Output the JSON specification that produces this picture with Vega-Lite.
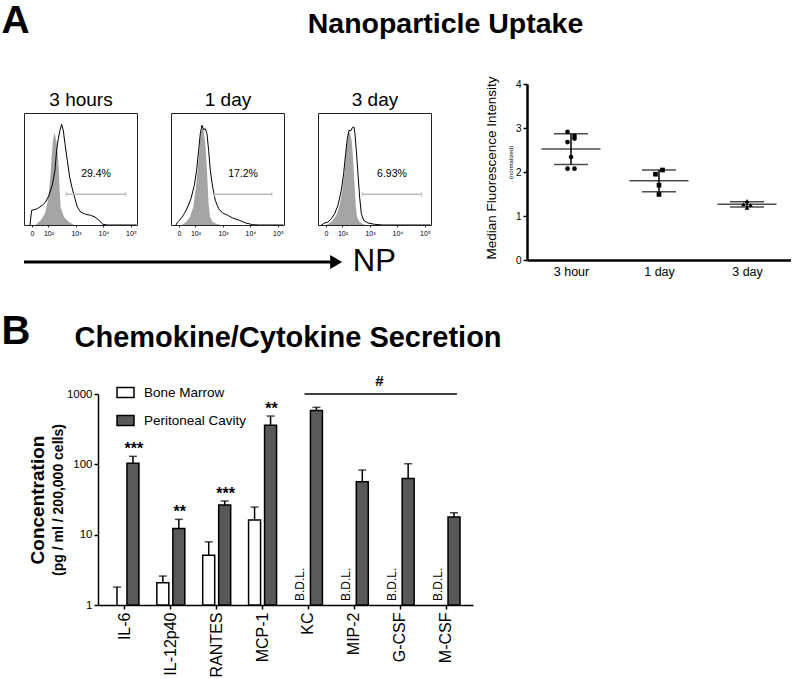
{
  "$schema": "https://vega.github.io/schema/vega-lite/v6.json",
  "padding": 0,
  "autosize": {"type": "pad"},
  "background": "white",
  "config": {
    "font": "Liberation Sans",
    "view": {"stroke": null},
    "axis": {"domainColor": "black", "tickColor": "black", "labelColor": "black", "titleColor": "black", "grid": false, "labelFont": "Liberation Sans", "titleFont": "Liberation Sans"},
    "legend": {"labelFont": "Liberation Sans", "labelColor": "black"},
    "text": {"color": "black", "font": "Liberation Sans"}
  },
  "datasets": {
    "hist": [
      {"panel": "3 hours", "series": "NP", "fl": 1.327, "count": 0},
      {"panel": "3 hours", "series": "NP", "fl": 1.388, "count": 14.7},
      {"panel": "3 hours", "series": "NP", "fl": 1.473, "count": 15.3},
      {"panel": "3 hours", "series": "NP", "fl": 1.594, "count": 16.3},
      {"panel": "3 hours", "series": "NP", "fl": 1.776, "count": 19.7},
      {"panel": "3 hours", "series": "NP", "fl": 1.897, "count": 23},
      {"panel": "3 hours", "series": "NP", "fl": 2.018, "count": 29.7},
      {"panel": "3 hours", "series": "NP", "fl": 2.139, "count": 39.7},
      {"panel": "3 hours", "series": "NP", "fl": 2.236, "count": 54.7},
      {"panel": "3 hours", "series": "NP", "fl": 2.297, "count": 74.7},
      {"panel": "3 hours", "series": "NP", "fl": 2.358, "count": 86.3},
      {"panel": "3 hours", "series": "NP", "fl": 2.418, "count": 94.7},
      {"panel": "3 hours", "series": "NP", "fl": 2.479, "count": 100.7},
      {"panel": "3 hours", "series": "NP", "fl": 2.539, "count": 94.7},
      {"panel": "3 hours", "series": "NP", "fl": 2.6, "count": 81.3},
      {"panel": "3 hours", "series": "NP", "fl": 2.685, "count": 64.7},
      {"panel": "3 hours", "series": "NP", "fl": 2.77, "count": 48},
      {"panel": "3 hours", "series": "NP", "fl": 2.867, "count": 36.3},
      {"panel": "3 hours", "series": "NP", "fl": 2.964, "count": 26.3},
      {"panel": "3 hours", "series": "NP", "fl": 3.048, "count": 18},
      {"panel": "3 hours", "series": "NP", "fl": 3.17, "count": 13},
      {"panel": "3 hours", "series": "NP", "fl": 3.352, "count": 10.7},
      {"panel": "3 hours", "series": "NP", "fl": 3.533, "count": 9.7},
      {"panel": "3 hours", "series": "NP", "fl": 3.691, "count": 8},
      {"panel": "3 hours", "series": "NP", "fl": 3.836, "count": 4.7},
      {"panel": "3 hours", "series": "NP", "fl": 3.982, "count": 0.7},
      {"panel": "3 hours", "series": "NP", "fl": 4.139, "count": 0},
      {"panel": "3 hours", "series": "NP", "fl": 5.2, "count": 0},
      {"panel": "3 hours", "series": "control", "fl": 1.533, "count": 0},
      {"panel": "3 hours", "series": "control", "fl": 1.715, "count": 4.7},
      {"panel": "3 hours", "series": "control", "fl": 1.873, "count": 11.3},
      {"panel": "3 hours", "series": "control", "fl": 1.958, "count": 21.3},
      {"panel": "3 hours", "series": "control", "fl": 2.018, "count": 34.7},
      {"panel": "3 hours", "series": "control", "fl": 2.079, "count": 51.3},
      {"panel": "3 hours", "series": "control", "fl": 2.115, "count": 68},
      {"panel": "3 hours", "series": "control", "fl": 2.164, "count": 84.7},
      {"panel": "3 hours", "series": "control", "fl": 2.212, "count": 92},
      {"panel": "3 hours", "series": "control", "fl": 2.285, "count": 84.7},
      {"panel": "3 hours", "series": "control", "fl": 2.345, "count": 68},
      {"panel": "3 hours", "series": "control", "fl": 2.382, "count": 51.3},
      {"panel": "3 hours", "series": "control", "fl": 2.406, "count": 34.7},
      {"panel": "3 hours", "series": "control", "fl": 2.442, "count": 18},
      {"panel": "3 hours", "series": "control", "fl": 2.564, "count": 8},
      {"panel": "3 hours", "series": "control", "fl": 2.745, "count": 3},
      {"panel": "3 hours", "series": "control", "fl": 2.927, "count": 0},
      {"panel": "1 day", "series": "NP", "fl": 1.291, "count": 0},
      {"panel": "1 day", "series": "NP", "fl": 1.352, "count": 3},
      {"panel": "1 day", "series": "NP", "fl": 1.473, "count": 6.3},
      {"panel": "1 day", "series": "NP", "fl": 1.594, "count": 11.3},
      {"panel": "1 day", "series": "NP", "fl": 1.715, "count": 18},
      {"panel": "1 day", "series": "NP", "fl": 1.836, "count": 26.3},
      {"panel": "1 day", "series": "NP", "fl": 1.958, "count": 39.7},
      {"panel": "1 day", "series": "NP", "fl": 2.042, "count": 54.7},
      {"panel": "1 day", "series": "NP", "fl": 2.115, "count": 74.7},
      {"panel": "1 day", "series": "NP", "fl": 2.176, "count": 91.3},
      {"panel": "1 day", "series": "NP", "fl": 2.236, "count": 99.7},
      {"panel": "1 day", "series": "NP", "fl": 2.297, "count": 95.3},
      {"panel": "1 day", "series": "NP", "fl": 2.358, "count": 96.3},
      {"panel": "1 day", "series": "NP", "fl": 2.418, "count": 91.3},
      {"panel": "1 day", "series": "NP", "fl": 2.479, "count": 74.7},
      {"panel": "1 day", "series": "NP", "fl": 2.539, "count": 54.7},
      {"panel": "1 day", "series": "NP", "fl": 2.624, "count": 38},
      {"panel": "1 day", "series": "NP", "fl": 2.721, "count": 24.7},
      {"panel": "1 day", "series": "NP", "fl": 2.842, "count": 16.3},
      {"panel": "1 day", "series": "NP", "fl": 2.988, "count": 12},
      {"panel": "1 day", "series": "NP", "fl": 3.17, "count": 9.7},
      {"panel": "1 day", "series": "NP", "fl": 3.352, "count": 7},
      {"panel": "1 day", "series": "NP", "fl": 3.594, "count": 4.7},
      {"panel": "1 day", "series": "NP", "fl": 3.836, "count": 2},
      {"panel": "1 day", "series": "NP", "fl": 4.079, "count": 0.3},
      {"panel": "1 day", "series": "NP", "fl": 4.321, "count": 0},
      {"panel": "1 day", "series": "NP", "fl": 5.2, "count": 0},
      {"panel": "1 day", "series": "control", "fl": 1.509, "count": 0},
      {"panel": "1 day", "series": "control", "fl": 1.655, "count": 3},
      {"panel": "1 day", "series": "control", "fl": 1.8, "count": 8},
      {"panel": "1 day", "series": "control", "fl": 1.921, "count": 18},
      {"panel": "1 day", "series": "control", "fl": 2.018, "count": 38},
      {"panel": "1 day", "series": "control", "fl": 2.079, "count": 54.7},
      {"panel": "1 day", "series": "control", "fl": 2.139, "count": 74.7},
      {"panel": "1 day", "series": "control", "fl": 2.188, "count": 91.3},
      {"panel": "1 day", "series": "control", "fl": 2.236, "count": 98},
      {"panel": "1 day", "series": "control", "fl": 2.297, "count": 94.7},
      {"panel": "1 day", "series": "control", "fl": 2.358, "count": 81.3},
      {"panel": "1 day", "series": "control", "fl": 2.406, "count": 61.3},
      {"panel": "1 day", "series": "control", "fl": 2.442, "count": 41.3},
      {"panel": "1 day", "series": "control", "fl": 2.479, "count": 21.3},
      {"panel": "1 day", "series": "control", "fl": 2.527, "count": 8},
      {"panel": "1 day", "series": "control", "fl": 2.624, "count": 3},
      {"panel": "1 day", "series": "control", "fl": 2.806, "count": 0.7},
      {"panel": "1 day", "series": "control", "fl": 2.927, "count": 0},
      {"panel": "3 day", "series": "NP", "fl": 1.23, "count": 0},
      {"panel": "3 day", "series": "NP", "fl": 1.352, "count": 2},
      {"panel": "3 day", "series": "NP", "fl": 1.473, "count": 3},
      {"panel": "3 day", "series": "NP", "fl": 1.594, "count": 6.3},
      {"panel": "3 day", "series": "NP", "fl": 1.715, "count": 11.3},
      {"panel": "3 day", "series": "NP", "fl": 1.836, "count": 19.7},
      {"panel": "3 day", "series": "NP", "fl": 1.958, "count": 34.7},
      {"panel": "3 day", "series": "NP", "fl": 2.042, "count": 51.3},
      {"panel": "3 day", "series": "NP", "fl": 2.115, "count": 71.3},
      {"panel": "3 day", "series": "NP", "fl": 2.176, "count": 86.3},
      {"panel": "3 day", "series": "NP", "fl": 2.236, "count": 94.7},
      {"panel": "3 day", "series": "NP", "fl": 2.297, "count": 94},
      {"panel": "3 day", "series": "NP", "fl": 2.358, "count": 97.3},
      {"panel": "3 day", "series": "NP", "fl": 2.418, "count": 98},
      {"panel": "3 day", "series": "NP", "fl": 2.455, "count": 91.3},
      {"panel": "3 day", "series": "NP", "fl": 2.503, "count": 74.7},
      {"panel": "3 day", "series": "NP", "fl": 2.564, "count": 51.3},
      {"panel": "3 day", "series": "NP", "fl": 2.624, "count": 28},
      {"panel": "3 day", "series": "NP", "fl": 2.685, "count": 11.3},
      {"panel": "3 day", "series": "NP", "fl": 2.77, "count": 4.7},
      {"panel": "3 day", "series": "NP", "fl": 2.927, "count": 2},
      {"panel": "3 day", "series": "NP", "fl": 3.17, "count": 0.7},
      {"panel": "3 day", "series": "NP", "fl": 3.473, "count": 0},
      {"panel": "3 day", "series": "NP", "fl": 5.2, "count": 0},
      {"panel": "3 day", "series": "control", "fl": 1.412, "count": 0},
      {"panel": "3 day", "series": "control", "fl": 1.594, "count": 3},
      {"panel": "3 day", "series": "control", "fl": 1.776, "count": 9.7},
      {"panel": "3 day", "series": "control", "fl": 1.897, "count": 19.7},
      {"panel": "3 day", "series": "control", "fl": 1.994, "count": 34.7},
      {"panel": "3 day", "series": "control", "fl": 2.079, "count": 54.7},
      {"panel": "3 day", "series": "control", "fl": 2.139, "count": 74.7},
      {"panel": "3 day", "series": "control", "fl": 2.2, "count": 89.7},
      {"panel": "3 day", "series": "control", "fl": 2.236, "count": 93},
      {"panel": "3 day", "series": "control", "fl": 2.285, "count": 91.3},
      {"panel": "3 day", "series": "control", "fl": 2.333, "count": 84.7},
      {"panel": "3 day", "series": "control", "fl": 2.382, "count": 68},
      {"panel": "3 day", "series": "control", "fl": 2.43, "count": 44.7},
      {"panel": "3 day", "series": "control", "fl": 2.479, "count": 21.3},
      {"panel": "3 day", "series": "control", "fl": 2.527, "count": 8},
      {"panel": "3 day", "series": "control", "fl": 2.624, "count": 3},
      {"panel": "3 day", "series": "control", "fl": 2.745, "count": 1},
      {"panel": "3 day", "series": "control", "fl": 2.867, "count": 0}
    ],
    "gates": [
      {"panel": "3 hours", "lo": 2.65, "hi": 4.81, "mid": 3.73, "level": 30.7, "pct": "29.4%"},
      {"panel": "1 day", "lo": 2.685, "hi": 4.78, "mid": 3.73, "level": 30.7, "pct": "17.2%"},
      {"panel": "3 day", "lo": 2.72, "hi": 4.87, "mid": 3.8, "level": 30.7, "pct": "6.93%"}
    ],
    "scatter": [
      {"time": "3 hour", "mfi": 2.91, "lane": -1},
      {"time": "3 hour", "mfi": 2.82, "lane": 1},
      {"time": "3 hour", "mfi": 2.76, "lane": 1},
      {"time": "3 hour", "mfi": 2.68, "lane": -1},
      {"time": "3 hour", "mfi": 2.34, "lane": 0},
      {"time": "3 hour", "mfi": 2.075, "lane": -1},
      {"time": "3 hour", "mfi": 2.075, "lane": 1},
      {"time": "1 day", "mfi": 2.045, "lane": 1},
      {"time": "1 day", "mfi": 1.95, "lane": -1},
      {"time": "1 day", "mfi": 1.7, "lane": 0},
      {"time": "1 day", "mfi": 1.49, "lane": 0},
      {"time": "3 day", "mfi": 1.265, "lane": -1},
      {"time": "3 day", "mfi": 1.34, "lane": 0},
      {"time": "3 day", "mfi": 1.19, "lane": 0},
      {"time": "3 day", "mfi": 1.25, "lane": 1}
    ],
    "summary": [
      {"time": "3 hour", "mean": 2.52, "lo": 2.17, "hi": 2.87},
      {"time": "1 day", "mean": 1.8, "lo": 1.55, "hi": 2.045},
      {"time": "3 day", "mean": 1.265, "lo": 1.205, "hi": 1.326}
    ],
    "bars": [
      {"cytokine": "IL-6", "source": "Bone Marrow", "value": 1, "upper": 1.8},
      {"cytokine": "IL-6", "source": "Peritoneal Cavity", "value": 104, "upper": 130, "sig": "***"},
      {"cytokine": "IL-12p40", "source": "Bone Marrow", "value": 2.07, "upper": 2.58},
      {"cytokine": "IL-12p40", "source": "Peritoneal Cavity", "value": 12.2, "upper": 16.5, "sig": "**"},
      {"cytokine": "RANTES", "source": "Bone Marrow", "value": 5.1, "upper": 7.9},
      {"cytokine": "RANTES", "source": "Peritoneal Cavity", "value": 26.4, "upper": 30.1, "sig": "***"},
      {"cytokine": "MCP-1", "source": "Bone Marrow", "value": 16.2, "upper": 24.7},
      {"cytokine": "MCP-1", "source": "Peritoneal Cavity", "value": 359, "upper": 486, "sig": "**"},
      {"cytokine": "KC", "source": "Bone Marrow", "bdl": true},
      {"cytokine": "KC", "source": "Peritoneal Cavity", "value": 581, "upper": 646},
      {"cytokine": "MIP-2", "source": "Bone Marrow", "bdl": true},
      {"cytokine": "MIP-2", "source": "Peritoneal Cavity", "value": 56.7, "upper": 83},
      {"cytokine": "G-CSF", "source": "Bone Marrow", "bdl": true},
      {"cytokine": "G-CSF", "source": "Peritoneal Cavity", "value": 63, "upper": 102},
      {"cytokine": "M-CSF", "source": "Bone Marrow", "bdl": true},
      {"cytokine": "M-CSF", "source": "Peritoneal Cavity", "value": 17.8, "upper": 20.5}
    ],
    "bracket": [
      {"cytokine": "KC", "to": "M-CSF", "top": 1000, "label": "#"}
    ]
  },
  "spacing": 132,
  "bounds": "flush",
  "resolve": {"scale": {"color": "independent", "shape": "independent"}, "legend": {"color": "independent", "shape": "independent"}},
  "vconcat": [
    {
      "spacing": 34,
      "bounds": "flush",
      "hconcat": [
        {
          "width": 113, "height": 112,
          "view": {"stroke": "#222222", "strokeWidth": 1},
          "resolve": {"axis": {"x": "independent", "y": "independent"}},
          "layer": [
            {"data": {"name": "hist"}, "transform": [{"filter": "datum.panel == '3 hours' && datum.series == 'control'"}],
             "mark": {"type": "area", "color": "#a4a4a4", "clip": true},
             "encoding": {
               "x": {"field": "fl", "type": "quantitative", "scale": {"domain": [1.11, 5.22], "nice": false, "zero": false},
                     "axis": {"values": [1.4, 2, 3, 4, 5], "labelExpr": "datum.value < 1.5 ? '0' : datum.value == 2 ? '10²' : datum.value == 3 ? '10³' : datum.value == 4 ? '10⁴' : '10⁵'", "domain": false, "tickSize": 2, "tickWidth": 0.8, "labelFontSize": 7, "labelPadding": 2, "labelFlush": false, "labelOverlap": false, "labelBound": false,
                              "title": "3 hours", "titleX": 56.5, "titleY": -120, "titleAlign": "center", "titleBaseline": "alphabetic", "titleAngle": 0, "titleFontSize": 19, "titleFontWeight": "normal"}},
               "y": {"field": "count", "type": "quantitative", "scale": {"domain": [0, 112], "nice": false},
                     "axis": {"orient": "left", "domain": false, "ticks": false, "labels": false, "title": "A", "titleX": -23, "titleY": -81, "titleAngle": 0, "titleAlign": "left", "titleBaseline": "alphabetic", "titleFontSize": 39, "titleFontWeight": "bold"}}}},
            {"data": {"name": "hist"}, "transform": [{"filter": "datum.panel == '3 hours' && datum.series == 'NP'"}],
             "mark": {"type": "line", "color": "black", "strokeWidth": 1, "clip": true},
             "encoding": {"x": {"field": "fl", "type": "quantitative", "axis": null}, "y": {"field": "count", "type": "quantitative", "axis": null}}},
            {"data": {"name": "gates"}, "transform": [{"filter": "datum.panel == '3 hours'"}],
             "layer": [
               {"mark": {"type": "rule", "color": "#bbbbbb", "strokeWidth": 1.5},
                "encoding": {"x": {"field": "lo", "type": "quantitative", "axis": null}, "x2": {"field": "hi"}, "y": {"field": "level", "type": "quantitative", "axis": null}}},
               {"mark": {"type": "tick", "orient": "vertical", "size": 5, "thickness": 1.2, "color": "#bbbbbb"},
                "encoding": {"x": {"field": "lo", "type": "quantitative", "axis": null}, "y": {"field": "level", "type": "quantitative", "axis": null}}},
               {"mark": {"type": "tick", "orient": "vertical", "size": 5, "thickness": 1.2, "color": "#bbbbbb"},
                "encoding": {"x": {"field": "hi", "type": "quantitative", "axis": null}, "y": {"field": "level", "type": "quantitative", "axis": null}}},
               {"mark": {"type": "text", "fontSize": 10.5, "dy": -20},
                "encoding": {"x": {"field": "mid", "type": "quantitative", "axis": null}, "y": {"field": "level", "type": "quantitative", "axis": null}, "text": {"field": "pct"}}}
             ]}
          ]
        },
        {
          "width": 113, "height": 112,
          "view": {"stroke": "#222222", "strokeWidth": 1},
          "resolve": {"axis": {"x": "independent", "y": "independent"}},
          "layer": [
            {"data": {"name": "hist"}, "transform": [{"filter": "datum.panel == '1 day' && datum.series == 'control'"}],
             "mark": {"type": "area", "color": "#a4a4a4", "clip": true},
             "encoding": {
               "x": {"field": "fl", "type": "quantitative", "scale": {"domain": [1.11, 5.22], "nice": false, "zero": false},
                     "axis": {"values": [1.4, 2, 3, 4, 5], "labelExpr": "datum.value < 1.5 ? '0' : datum.value == 2 ? '10²' : datum.value == 3 ? '10³' : datum.value == 4 ? '10⁴' : '10⁵'", "domain": false, "tickSize": 2, "tickWidth": 0.8, "labelFontSize": 7, "labelPadding": 2, "labelFlush": false, "labelOverlap": false, "labelBound": false,
                              "title": "1 day", "titleX": 56.5, "titleY": -120, "titleAlign": "center", "titleBaseline": "alphabetic", "titleAngle": 0, "titleFontSize": 19, "titleFontWeight": "normal"}},
               "y": {"field": "count", "type": "quantitative", "scale": {"domain": [0, 112], "nice": false}, "axis": null}}},
            {"data": {"name": "hist"}, "transform": [{"filter": "datum.panel == '1 day' && datum.series == 'NP'"}],
             "mark": {"type": "line", "color": "black", "strokeWidth": 1, "clip": true},
             "encoding": {"x": {"field": "fl", "type": "quantitative", "axis": null}, "y": {"field": "count", "type": "quantitative", "axis": null}}},
            {"data": {"name": "gates"}, "transform": [{"filter": "datum.panel == '1 day'"}],
             "layer": [
               {"mark": {"type": "rule", "color": "#bbbbbb", "strokeWidth": 1.5},
                "encoding": {"x": {"field": "lo", "type": "quantitative", "axis": null}, "x2": {"field": "hi"}, "y": {"field": "level", "type": "quantitative", "axis": null}}},
               {"mark": {"type": "tick", "orient": "vertical", "size": 5, "thickness": 1.2, "color": "#bbbbbb"},
                "encoding": {"x": {"field": "lo", "type": "quantitative", "axis": null}, "y": {"field": "level", "type": "quantitative", "axis": null}}},
               {"mark": {"type": "tick", "orient": "vertical", "size": 5, "thickness": 1.2, "color": "#bbbbbb"},
                "encoding": {"x": {"field": "hi", "type": "quantitative", "axis": null}, "y": {"field": "level", "type": "quantitative", "axis": null}}},
               {"mark": {"type": "text", "fontSize": 10.5, "dy": -20},
                "encoding": {"x": {"field": "mid", "type": "quantitative", "axis": null}, "y": {"field": "level", "type": "quantitative", "axis": null}, "text": {"field": "pct"}}}
             ]}
          ]
        },
        {
          "width": 113, "height": 112,
          "view": {"stroke": "#222222", "strokeWidth": 1},
          "resolve": {"axis": {"x": "independent", "y": "independent"}},
          "layer": [
            {"data": {"name": "hist"}, "transform": [{"filter": "datum.panel == '3 day' && datum.series == 'control'"}],
             "mark": {"type": "area", "color": "#a4a4a4", "clip": true},
             "encoding": {
               "x": {"field": "fl", "type": "quantitative", "scale": {"domain": [1.11, 5.22], "nice": false, "zero": false},
                     "axis": {"values": [1.4, 2, 3, 4, 5], "labelExpr": "datum.value < 1.5 ? '0' : datum.value == 2 ? '10²' : datum.value == 3 ? '10³' : datum.value == 4 ? '10⁴' : '10⁵'", "domain": false, "tickSize": 2, "tickWidth": 0.8, "labelFontSize": 7, "labelPadding": 2, "labelFlush": false, "labelOverlap": false, "labelBound": false,
                              "title": "3 day", "titleX": 56.5, "titleY": -120, "titleAlign": "center", "titleBaseline": "alphabetic", "titleAngle": 0, "titleFontSize": 19, "titleFontWeight": "normal"}},
               "y": {"field": "count", "type": "quantitative", "scale": {"domain": [0, 112], "nice": false}, "axis": null}}},
            {"data": {"name": "hist"}, "transform": [{"filter": "datum.panel == '3 day' && datum.series == 'NP'"}],
             "mark": {"type": "line", "color": "black", "strokeWidth": 1, "clip": true},
             "encoding": {"x": {"field": "fl", "type": "quantitative", "axis": null}, "y": {"field": "count", "type": "quantitative", "axis": null}}},
            {"data": {"name": "gates"}, "transform": [{"filter": "datum.panel == '3 day'"}],
             "layer": [
               {"mark": {"type": "rule", "color": "#bbbbbb", "strokeWidth": 1.5},
                "encoding": {"x": {"field": "lo", "type": "quantitative", "axis": null}, "x2": {"field": "hi"}, "y": {"field": "level", "type": "quantitative", "axis": null}}},
               {"mark": {"type": "tick", "orient": "vertical", "size": 5, "thickness": 1.2, "color": "#bbbbbb"},
                "encoding": {"x": {"field": "lo", "type": "quantitative", "axis": null}, "y": {"field": "level", "type": "quantitative", "axis": null}}},
               {"mark": {"type": "tick", "orient": "vertical", "size": 5, "thickness": 1.2, "color": "#bbbbbb"},
                "encoding": {"x": {"field": "hi", "type": "quantitative", "axis": null}, "y": {"field": "level", "type": "quantitative", "axis": null}}},
               {"mark": {"type": "text", "fontSize": 10.5, "dy": -20},
                "encoding": {"x": {"field": "mid", "type": "quantitative", "axis": null}, "y": {"field": "level", "type": "quantitative", "axis": null}, "text": {"field": "pct"}}}
             ]}
          ]
        },
        {
          "width": 326, "height": 147,
          "layer": [
            {"data": {"name": "summary"}, "mark": {"type": "rule", "strokeWidth": 1.5, "color": "black"},
             "encoding": {
               "x": {"field": "time", "type": "nominal", "sort": ["3 hour", "1 day", "3 day"], "scale": {"type": "point", "padding": 0.5, "range": [62, 326]},
                     "axis": {"labelAngle": 0, "labelFontSize": 12.5, "ticks": false, "domainWidth": 2.5, "labelPadding": 5,
                              "title": "Nanoparticle Uptake", "titleX": -20, "titleY": -228, "titleAlign": "center", "titleBaseline": "alphabetic", "titleAngle": 0, "titleFontSize": 28.5, "titleFontWeight": "bold"}},
               "y": {"field": "lo", "type": "quantitative", "scale": {"domain": [0, 4], "nice": false, "range": [147, -29]},
                     "axis": {"orient": "left", "offset": -62, "values": [0, 1, 2, 3, 4], "format": "d", "labelFontSize": 10, "tickSize": 4, "tickWidth": 1.5, "domainWidth": 2.5, "labelPadding": 2,
                              "title": "Median Fluorescence Intensity", "titleFontSize": 13.5, "titleFontWeight": "normal", "titleX": -36, "titleY": 54.5, "titleAngle": 270, "titleBaseline": "middle", "titleAlign": "center"}},
               "y2": {"field": "hi"}}},
            {"data": {"name": "summary"}, "mark": {"type": "tick", "size": 59, "thickness": 1.5, "color": "black"},
             "encoding": {
               "x": {"field": "time", "type": "nominal", "sort": ["3 hour", "1 day", "3 day"]},
               "y": {"field": "mean", "type": "quantitative",
                     "axis": {"orient": "left", "offset": -62, "domain": false, "ticks": false, "labels": false, "title": "(normalized)", "titleFontSize": 6, "titleFontWeight": "normal", "titleX": -16.5, "titleY": 49, "titleAngle": 270, "titleBaseline": "middle", "titleAlign": "center"}}}},
            {"data": {"name": "summary"}, "mark": {"type": "tick", "size": 34, "thickness": 1.5, "color": "black"},
             "encoding": {"x": {"field": "time", "type": "nominal", "sort": ["3 hour", "1 day", "3 day"]}, "y": {"field": "lo", "type": "quantitative", "axis": null}}},
            {"data": {"name": "summary"}, "mark": {"type": "tick", "size": 34, "thickness": 1.5, "color": "black"},
             "encoding": {"x": {"field": "time", "type": "nominal", "sort": ["3 hour", "1 day", "3 day"]}, "y": {"field": "hi", "type": "quantitative", "axis": null}}},
            {"data": {"name": "scatter"}, "mark": {"type": "point", "filled": true, "color": "black", "opacity": 1, "size": 22},
             "encoding": {
               "x": {"field": "time", "type": "nominal", "sort": ["3 hour", "1 day", "3 day"]},
               "xOffset": {"field": "lane", "type": "quantitative", "scale": {"domain": [-1, 1], "range": [-3.5, 3.5]}},
               "y": {"field": "mfi", "type": "quantitative", "axis": null},
               "shape": {"field": "time", "type": "nominal", "scale": {"domain": ["3 hour", "1 day", "3 day"], "range": ["circle", "square", "triangle-up"]}, "legend": null}}}
          ],
          "resolve": {"axis": {"y": "independent"}}
        }
      ]
    },
    {
      "width": 407, "height": 17,
      "data": {"values": [{"from": 0, "to": 0.767, "where": 0.808, "level": 0, "label": "NP"}]},
      "encoding": {"y": {"field": "level", "type": "quantitative", "scale": {"domain": [0, 1]}, "axis": null}},
      "layer": [
        {"mark": {"type": "rule", "color": "black", "strokeWidth": 3},
         "encoding": {"x": {"field": "from", "type": "quantitative", "scale": {"domain": [0, 1]}, "axis": null}, "x2": {"field": "to"}}},
        {"mark": {"type": "point", "shape": "triangle-right", "filled": true, "color": "black", "opacity": 1, "size": 190},
         "encoding": {"x": {"field": "to", "type": "quantitative"}}},
        {"mark": {"type": "text", "align": "left", "baseline": "middle", "fontSize": 31},
         "encoding": {"x": {"field": "where", "type": "quantitative"}, "text": {"field": "label"}}}
      ]
    },
    {
      "width": 449, "height": 211,
      "data": {"name": "bars"},
      "layer": [
        {"transform": [{"filter": "isValid(datum.value) && datum.value > 1"}],
         "mark": {"type": "bar", "stroke": "black", "strokeWidth": 1.5},
         "encoding": {
           "x": {"field": "cytokine", "type": "nominal", "scale": {"domain": ["IL-6", "IL-12p40", "RANTES", "MCP-1", "KC", "MIP-2", "G-CSF", "M-CSF"], "paddingInner": 0.39, "paddingOuter": 0.283, "range": [74, 449]},
                 "axis": {"labelAngle": 270, "labelAlign": "right", "labelBaseline": "middle", "labelFontSize": 16, "tickSize": 4, "tickWidth": 1.5, "domainWidth": 1.5, "labelPadding": 3,
                          "title": "Chemokine/Cytokine Secretion", "titleX": 50, "titleY": -259, "titleAlign": "left", "titleBaseline": "alphabetic", "titleAngle": 0, "titleFontSize": 29, "titleFontWeight": "bold"}},
           "xOffset": {"field": "source", "type": "nominal", "scale": {"domain": ["Bone Marrow", "Peritoneal Cavity"], "paddingInner": 0.25, "paddingOuter": 0}},
           "y": {"field": "value", "type": "quantitative", "scale": {"type": "log", "domain": [1, 1000], "nice": false},
                 "axis": {"orient": "left", "offset": -74, "values": [1, 10, 100, 1000], "format": "d", "labelFontSize": 11.5, "tickSize": 4, "tickWidth": 1.5, "domainWidth": 1.5, "labelPadding": 2,
                          "title": "Concentration", "titleFontSize": 19, "titleFontWeight": "bold", "titleX": -61, "titleY": 105.5, "titleAngle": 270, "titleBaseline": "middle", "titleAlign": "center"}},
           "y2": {"datum": 1},
           "color": {"field": "source", "type": "nominal", "scale": {"domain": ["Bone Marrow", "Peritoneal Cavity"], "range": ["white", "#595959"]},
                     "legend": {"title": null, "orient": "none", "legendX": 92, "legendY": -11, "symbolType": "M-1,-0.59H1V0.59H-1Z", "symbolSize": 289, "symbolStrokeColor": "black", "symbolStrokeWidth": 1.5, "labelFontSize": 13.5, "labelOffset": 9, "rowPadding": 10, "padding": 0}}}},
        {"transform": [{"filter": "isValid(datum.upper)"}],
         "mark": {"type": "rule", "strokeWidth": 1.5, "color": "black"},
         "encoding": {
           "x": {"field": "cytokine", "type": "nominal"},
           "xOffset": {"field": "source", "type": "nominal"},
           "y": {"field": "value", "type": "quantitative",
                 "axis": {"orient": "left", "offset": -74, "domain": false, "ticks": false, "labels": false, "title": "(pg / ml / 200,000 cells)", "titleFontSize": 14, "titleFontWeight": "bold", "titleX": -40, "titleY": 105.5, "titleAngle": 270, "titleBaseline": "middle", "titleAlign": "center"}},
           "y2": {"field": "upper"}}},
        {"transform": [{"filter": "isValid(datum.upper)"}],
         "mark": {"type": "tick", "size": 8, "thickness": 1.5, "color": "black"},
         "encoding": {
           "x": {"field": "cytokine", "type": "nominal"},
           "xOffset": {"field": "source", "type": "nominal"},
           "y": {"field": "upper", "type": "quantitative", "axis": null}}},
        {"transform": [{"filter": "isValid(datum.sig)"}],
         "mark": {"type": "text", "fontSize": 16, "fontWeight": "bold", "baseline": "alphabetic", "dy": -2, "dx": 1},
         "encoding": {
           "x": {"field": "cytokine", "type": "nominal"},
           "xOffset": {"field": "source", "type": "nominal"},
           "y": {"field": "upper", "type": "quantitative",
                 "axis": {"orient": "left", "offset": -74, "domain": false, "ticks": false, "labels": false, "title": "B", "titleX": -97, "titleY": -51, "titleAngle": 0, "titleAlign": "left", "titleBaseline": "alphabetic", "titleFontSize": 40, "titleFontWeight": "bold"}},
           "text": {"field": "sig"}}},
        {"transform": [{"filter": "datum.bdl === true"}],
         "mark": {"type": "text", "angle": 270, "align": "left", "baseline": "middle", "fontSize": 12, "dx": 4},
         "encoding": {
           "x": {"field": "cytokine", "type": "nominal"},
           "xOffset": {"field": "source", "type": "nominal"},
           "y": {"datum": 1, "type": "quantitative", "axis": null},
           "text": {"value": "B.D.L."}}},
        {"data": {"name": "bracket"},
         "mark": {"type": "rule", "strokeWidth": 1.5, "color": "black"},
         "encoding": {
           "x": {"field": "cytokine", "type": "nominal", "bandPosition": 0.36},
           "x2": {"field": "to", "bandPosition": 0.89},
           "y": {"field": "top", "type": "quantitative", "axis": null}}},
        {"data": {"name": "bracket"},
         "mark": {"type": "text", "fontSize": 15, "fontWeight": "bold", "baseline": "alphabetic", "dy": -8, "dx": 71},
         "encoding": {
           "x": {"field": "cytokine", "type": "nominal"},
           "y": {"field": "top", "type": "quantitative", "axis": null},
           "text": {"field": "label"}}}
      ],
      "resolve": {"axis": {"y": "independent"}}
    }
  ]
}
